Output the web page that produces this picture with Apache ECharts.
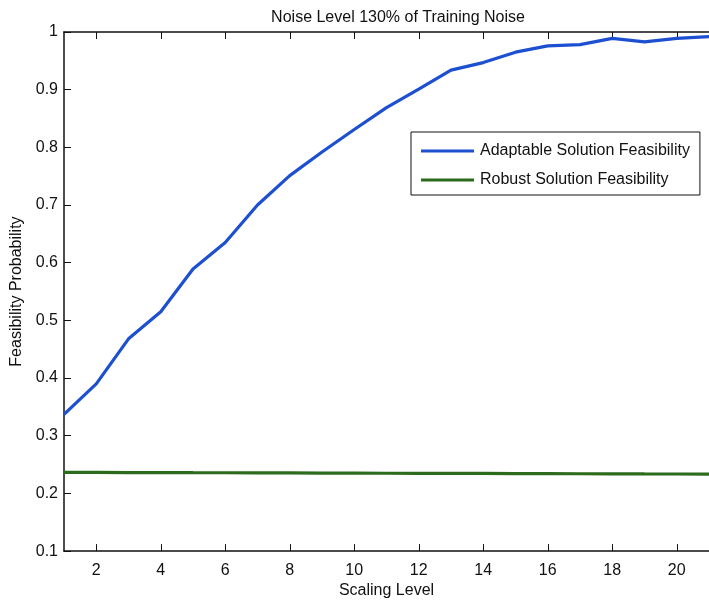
<!DOCTYPE html>
<html>
<head>
<meta charset="utf-8">
<script src="https://cdn.jsdelivr.net/npm/echarts@6/dist/echarts.min.js"></script>
<style>
html,body{margin:0;padding:0;background:#fff;}
#c{width:709px;height:604px;}
</style>
</head>
<body>
<div id="c"></div>
<script>
var scalingLevels = [1,2,3,4,5,6,7,8,9,10,11,12,13,14,15,16,17,18,19,20,21];
var adaptable = [0.337,0.390,0.468,0.515,0.589,0.635,0.700,0.751,0.792,0.831,0.869,0.901,0.934,0.947,0.965,0.976,0.978,0.989,0.983,0.989,0.992];
var robust = [0.2365,0.2364,0.2362,0.2361,0.2359,0.2358,0.2356,0.2355,0.2353,0.2352,0.2350,0.2349,0.2347,0.2346,0.2344,0.2343,0.2341,0.2340,0.2338,0.2337,0.2335];
var xTicks = [2,4,6,8,10,12,14,16,18,20];
var yTicks = [0.1,0.2,0.3,0.4,0.5,0.6,0.7,0.8,0.9,1];
var seriesNames = ['Adaptable Solution Feasibility','Robust Solution Feasibility'];
var titleText = 'Noise Level 130% of Training Noise';
var xName = 'Scaling Level';
var yName = 'Feasibility Probability';

var font = 'Liberation Sans, Arial, Helvetica, sans-serif';
var chart = echarts.init(document.getElementById('c'), null, {renderer:'canvas'});
function pairs(v){ return scalingLevels.map(function(x,i){return [x, v[i]];}); }
chart.setOption({
  animation:false,
  backgroundColor:'#fff',
  title:{text:titleText, left:393, textAlign:'center', top:5,
    textStyle:{fontFamily:font, fontSize:16, fontWeight:'normal', color:'#111'}},
  grid:{left:64, top:32, width:655, height:521, containLabel:false},
  legend:{
    orient:'vertical', left:411, top:132,
    padding:[11,10,7,10], itemGap:13, itemWidth:53, itemHeight:3,
    borderColor:'#111', borderWidth:1, backgroundColor:'#fff',
    icon:'rect', data:seriesNames,
    textStyle:{fontFamily:font, fontSize:16, color:'#111', padding:[0,0,0,1]}
  },
  xAxis:[{
    type:'value', min:1, max:21, position:'bottom',
    name:xName, nameLocation:'middle', nameGap:31,
    nameTextStyle:{fontFamily:font, fontSize:16, color:'#111'},
    axisLine:{show:true, lineStyle:{color:'#111', width:1.5}},
    axisTick:{show:true, inside:true, length:7, customValues:xTicks, lineStyle:{color:'#111'}},
    axisLabel:{customValues:xTicks, fontFamily:font, fontSize:16, color:'#111', margin:11},
    splitLine:{show:false}
  },{
    type:'value', min:1, max:21, position:'top',
    axisLine:{show:true, lineStyle:{color:'#111', width:1.5}},
    axisTick:{show:true, inside:true, length:7, customValues:xTicks, lineStyle:{color:'#111'}},
    axisLabel:{show:false},
    splitLine:{show:false}
  }],
  yAxis:[{
    type:'value', min:0.1, max:1,
    name:yName, nameLocation:'middle', nameGap:36,
    nameTextStyle:{fontFamily:font, fontSize:16, color:'#111'},
    axisLine:{show:true, lineStyle:{color:'#111', width:1.5}},
    axisTick:{show:true, inside:true, length:7, customValues:yTicks, lineStyle:{color:'#111'}},
    axisLabel:{customValues:yTicks, fontFamily:font, fontSize:16, color:'#111', margin:6,
      formatter:function(v){ return (Math.round(v*10)/10).toString(); }},
    splitLine:{show:false}
  }],
  series:[{
    name:seriesNames[0], type:'line', data:pairs(adaptable), showSymbol:false,
    lineStyle:{color:'#1d4fd1', width:3.2}, itemStyle:{color:'#1d4fd1'}
  },{
    name:seriesNames[1], type:'line', data:pairs(robust), showSymbol:false,
    lineStyle:{color:'#2c6b1c', width:3.2}, itemStyle:{color:'#2c6b1c'}
  }]
});
</script>
</body>
</html>
